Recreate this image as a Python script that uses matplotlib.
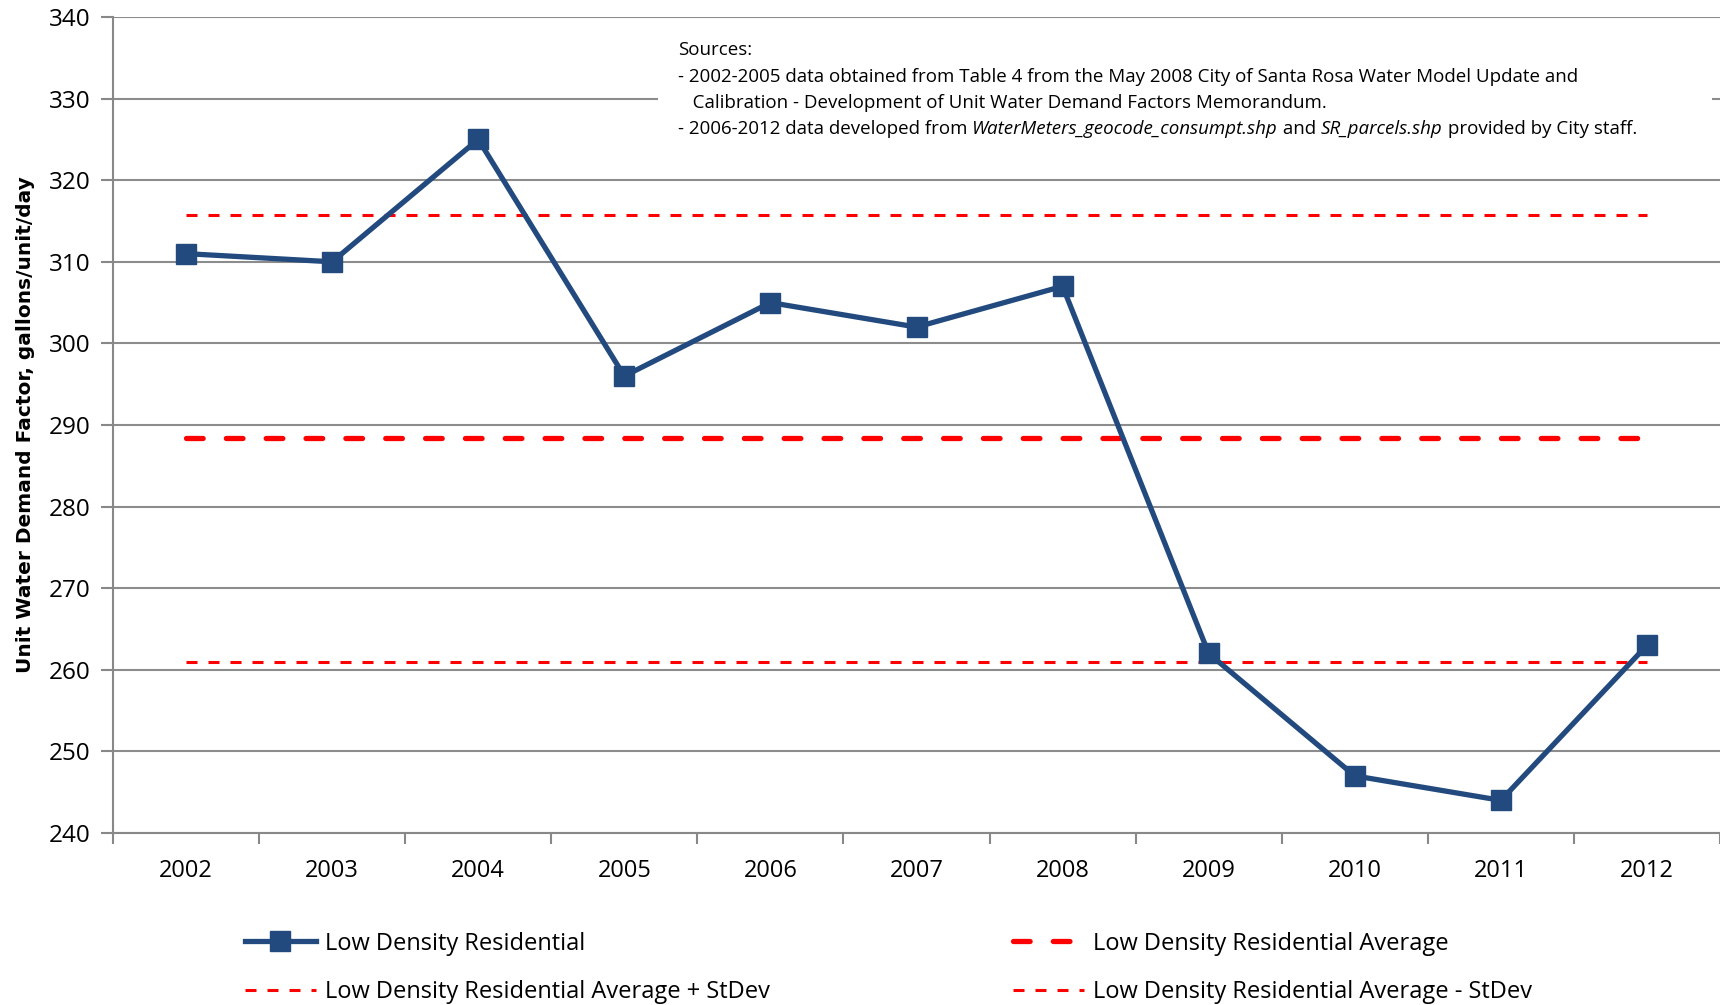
import numpy as np
import matplotlib
matplotlib.use("Agg")
import matplotlib.pyplot as plt
from matplotlib.patches import Rectangle

years = ["2002", "2003", "2004", "2005", "2006", "2007", "2008", "2009", "2010", "2011", "2012"]
demand = [311, 310, 325, 296, 305, 302, 307, 262, 247, 244, 263]
average = 288.36
avg_plus = 315.7
avg_minus = 261.0

plt.rcParams['font.family'] = ['Open Sans', 'DejaVu Sans']

W, H = 1720, 1005
fig = plt.figure(figsize=(W / 100, H / 100), dpi=100)
ax = fig.add_axes([113 / W, 1 - 833 / H, 1607 / W, 816 / H])
ax.set_axisbelow(True)

x = np.arange(len(years))
navy = '#224A7E'
h_ldr, = ax.plot(x, demand, color=navy, lw=3.8, marker='s', markersize=14, zorder=5,
                 label='Low Density Residential')
h_avg, = ax.plot(x, [average] * len(x), color='#FF0000', lw=3.8, dashes=(3.15, 4.4),
                 dash_capstyle='round', zorder=3, label='Low Density Residential Average')
h_plus, = ax.plot(x, [avg_plus] * len(x), color='#FF0000', lw=2.2, dashes=(3.6, 3.6), zorder=3,
                  label='Low Density Residential Average + StDev')
h_minus, = ax.plot(x, [avg_minus] * len(x), color='#FF0000', lw=2.2, dashes=(3.6, 3.6), zorder=3,
                   label='Low Density Residential Average - StDev')

ax.set_xlim(-0.5, len(years) - 0.5)
ax.set_ylim(240, 340)
ax.set_yticks(np.arange(240, 341, 10))
ax.set_xticks(x)
ax.set_xticklabels(years)
ax.set_xticks(np.arange(-0.5, len(years), 1.0), minor=True)
ax.tick_params(axis='x', which='major', length=0, pad=19, labelsize=17)
ax.tick_params(axis='x', which='minor', length=8, width=1.5, color='#888888')
ax.tick_params(axis='y', length=9, width=1.5, color='#888888', labelsize=17.5, pad=7)
ax.grid(axis='y', color='#8C8C8C', lw=1.5, zorder=0)
for s in ['top', 'right']:
    ax.spines[s].set_visible(False)
for s in ['left', 'bottom']:
    ax.spines[s].set_color('#888888')
    ax.spines[s].set_linewidth(1.5)

ax.set_ylabel('Unit Water Demand Factor, gallons/unit/day', fontsize=14.5, fontweight='bold',
              family=['DejaVu Sans'], labelpad=10)

# white box behind the sources note
ax.add_patch(Rectangle((545 / 1607, (833 - 155) / 816), (1712 - 658) / 1607, 120 / 816,
                       transform=ax.transAxes, facecolor='white', edgecolor='none', zorder=1))

fs = 13.5
x0 = 678 / W
fig.text(x0, 1 - 50 / H, "Sources:", fontsize=fs, va='center', ha='left')
fig.text(x0, 1 - 77 / H,
         "- 2002-2005 data obtained from Table 4 from the May 2008 City of Santa Rosa Water Model Update and",
         fontsize=fs, va='center', ha='left')
fig.text(x0, 1 - 103 / H,
         "   Calibration - Development of Unit Water Demand Factors Memorandum.",
         fontsize=fs, va='center', ha='left')
pieces = [("- 2006-2012 data developed from ", 'normal'),
          ("WaterMeters_geocode_consumpt.shp", 'italic'),
          (" and ", 'normal'),
          ("SR_parcels.shp", 'italic'),
          (" provided by City staff.", 'normal')]
prev = fig.text(x0, 1 - 129 / H, pieces[0][0], fontsize=fs, va='center', ha='left')
for txt, st in pieces[1:]:
    prev = ax.annotate(txt, xy=(1, 0), xycoords=prev, fontsize=fs, style=st,
                       va='bottom', ha='left', annotation_clip=False)

handles = [h_ldr, h_plus, h_avg, h_minus]
leg = fig.legend(handles=handles, labels=[h.get_label() for h in handles],
                 loc='lower left', bbox_to_anchor=(0.130, -0.02), ncol=2, frameon=False,
                 fontsize=17, handlelength=3.0, columnspacing=10.3, labelspacing=1.03,
                 handletextpad=0.4)
fig.savefig('out.png', dpi=100)
